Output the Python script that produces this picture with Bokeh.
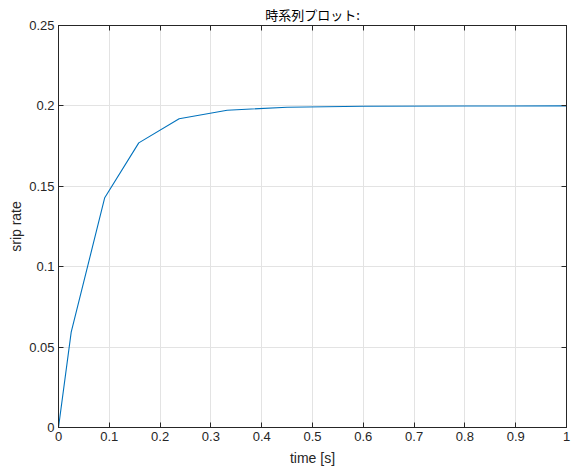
from bokeh.plotting import figure
from bokeh.models import LinearAxis, Range1d, FixedTicker, CustomLabelingPolicy
from bokeh.embed import file_html
from bokeh.resources import INLINE

time_s = [0.0, 0.025, 0.091, 0.158, 0.2375, 0.332, 0.45, 0.6, 0.8, 1.0]
slip_rate = [0.0, 0.0593, 0.1429, 0.177, 0.192, 0.1973, 0.1992, 0.1998, 0.19995, 0.2]
x_ticks = [0, 0.1, 0.2, 0.3, 0.4, 0.5, 0.6, 0.7, 0.8, 0.9, 1.0]
y_ticks = [0, 0.05, 0.1, 0.15, 0.2, 0.25]
x_labels = {0: "0", 0.1: "0.1", 0.2: "0.2", 0.3: "0.3", 0.4: "0.4", 0.5: "0.5",
            0.6: "0.6", 0.7: "0.7", 0.8: "0.8", 0.9: "0.9", 1.0: "1"}
y_labels = {0: "0", 0.05: "0.05", 0.1: "0.1", 0.15: "0.15", 0.2: "0.2", 0.25: "0.25"}

FONT = "Liberation Sans"
AX = "#262626"

p = figure(frame_width=508, frame_height=402, output_backend="svg", toolbar_location=None,
           x_range=Range1d(0, 1), y_range=Range1d(0, 0.25),
           min_border_left=58, min_border_right=9, min_border_top=25, min_border_bottom=41,
           x_axis_label="time [s]", y_axis_label="srip rate", title="時系列プロット:")
p.line(time_s, slip_rate, line_color="#0072BD", line_width=1.1)

p.title.text_font = "Noto Sans CJK JP"
p.title.text_font_size = "13px"
p.title.text_font_style = "normal"
p.title.text_color = "#000000"
p.title.align = "center"
p.title.offset = 0
p.title.standoff = 4

p.outline_line_color = AX
p.outline_line_width = 1
p.background_fill_color = "white"
p.border_fill_color = "white"

for ax, ticks, labels in ((p.xaxis[0], x_ticks, x_labels), (p.yaxis[0], y_ticks, y_labels)):
    ax.ticker = FixedTicker(ticks=ticks)
    ax.major_label_overrides = labels
    ax.major_tick_in = 5
    ax.major_tick_out = 0
    ax.minor_tick_line_color = None
    ax.axis_line_color = AX
    ax.major_tick_line_color = AX
    ax.major_label_text_font = FONT
    ax.major_label_text_font_size = "13px"
    ax.major_label_text_color = AX
    ax.axis_label_text_font = FONT
    ax.axis_label_text_font_size = "14px"
    ax.axis_label_text_font_style = "normal"
    ax.axis_label_text_color = AX
    ax.major_label_standoff = 4
p.xaxis[0].axis_label_standoff = 6
p.yaxis[0].axis_label_standoff = 2

p.xgrid.ticker = FixedTicker(ticks=x_ticks)
p.ygrid.ticker = FixedTicker(ticks=y_ticks)
p.grid.grid_line_color = "#e3e3e3"
p.grid.grid_line_width = 1

no_labels = "for (const i of indices) { if (false) { yield i } }"
top = LinearAxis(ticker=FixedTicker(ticks=x_ticks),
                 major_label_policy=CustomLabelingPolicy(code=no_labels),
                 major_label_text_font_size="0px",
                 major_tick_in=5, major_tick_out=0, minor_tick_line_color=None,
                 axis_line_color=AX, major_tick_line_color=AX, major_label_standoff=0)
right = LinearAxis(ticker=FixedTicker(ticks=y_ticks),
                   major_label_policy=CustomLabelingPolicy(code=no_labels),
                   major_label_text_font_size="0px",
                   major_tick_in=5, major_tick_out=0, minor_tick_line_color=None,
                   axis_line_color=AX, major_tick_line_color=AX, major_label_standoff=0)
p.add_layout(top, "above")
p.add_layout(right, "right")

open("out.html", "w").write(file_html(p, INLINE))
